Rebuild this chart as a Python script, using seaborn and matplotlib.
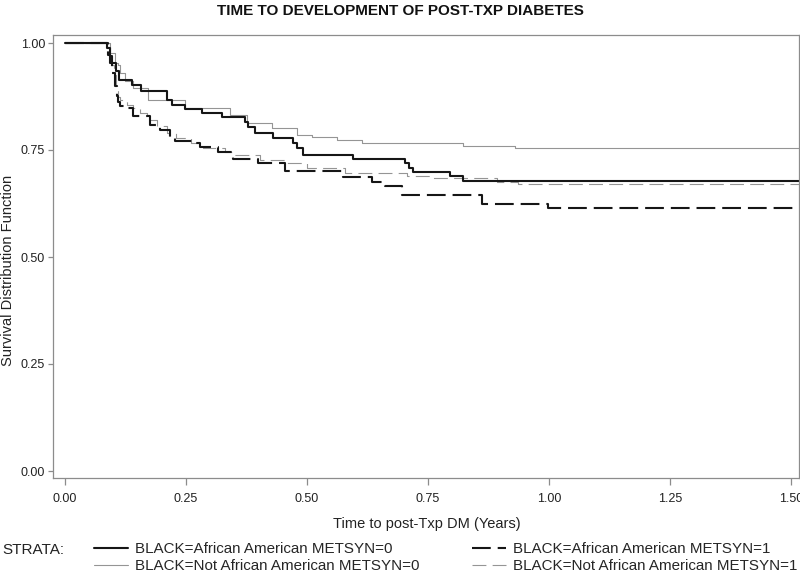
import numpy as np
import pandas as pd
import matplotlib
matplotlib.use("Agg")
import matplotlib.pyplot as plt
from matplotlib.lines import Line2D
import seaborn as sns

# ---- data ----
t_aa_m0 = [0, 0.087, 0.093, 0.097, 0.105, 0.112, 0.138, 0.157, 0.211, 0.221, 0.248, 0.283,
           0.324, 0.372, 0.378, 0.393, 0.430, 0.471, 0.479, 0.492, 0.595, 0.702, 0.711, 0.719,
           0.795, 0.822, 1.52]
s_aa_m0 = [1.0, 0.988, 0.970, 0.953, 0.935, 0.914, 0.902, 0.888, 0.867, 0.855, 0.846, 0.836,
           0.827, 0.815, 0.804, 0.790, 0.778, 0.766, 0.755, 0.738, 0.729, 0.720, 0.708, 0.699,
           0.689, 0.678, 0.678]

t_naa_m0 = [0, 0.087, 0.093, 0.103, 0.109, 0.114, 0.124, 0.140, 0.172, 0.248, 0.341, 0.376,
            0.428, 0.479, 0.510, 0.562, 0.614, 0.822, 0.930, 1.52]
s_naa_m0 = [1.0, 0.990, 0.977, 0.953, 0.949, 0.930, 0.911, 0.895, 0.867, 0.848, 0.832, 0.813,
            0.801, 0.785, 0.780, 0.773, 0.766, 0.759, 0.755, 0.755]

t_aa_m1 = [0, 0.089, 0.093, 0.097, 0.103, 0.107, 0.110, 0.114, 0.124, 0.140, 0.176, 0.196,
           0.217, 0.227, 0.269, 0.279, 0.316, 0.347, 0.399, 0.455, 0.574, 0.634, 0.661, 0.696,
           0.862, 0.998, 1.52]
s_aa_m1 = [1.0, 0.972, 0.953, 0.930, 0.900, 0.877, 0.862, 0.853, 0.848, 0.829, 0.808, 0.797,
           0.778, 0.771, 0.766, 0.757, 0.745, 0.729, 0.720, 0.701, 0.687, 0.675, 0.666, 0.645,
           0.624, 0.614, 0.614]

t_naa_m1 = [0, 0.093, 0.097, 0.101, 0.105, 0.110, 0.114, 0.128, 0.140, 0.155, 0.170, 0.190,
            0.210, 0.230, 0.260, 0.285, 0.330, 0.351, 0.403, 0.455, 0.500, 0.579, 0.707, 0.754,
            0.893, 0.936, 1.52]
s_naa_m1 = [1.0, 0.972, 0.949, 0.925, 0.895, 0.874, 0.867, 0.855, 0.848, 0.836, 0.820, 0.806,
            0.790, 0.778, 0.766, 0.755, 0.745, 0.738, 0.727, 0.720, 0.708, 0.696, 0.689, 0.685,
            0.675, 0.671, 0.671]

strata = ["BLACK=African American METSYN=0", "BLACK=Not African American METSYN=0",
          "BLACK=African American METSYN=1", "BLACK=Not African American METSYN=1"]
x_ticks = [0.0, 0.25, 0.5, 0.75, 1.0, 1.25, 1.5]
y_ticks = [0.0, 0.25, 0.5, 0.75, 1.0]

title = "TIME TO DEVELOPMENT OF POST-TXP DIABETES"
xlabel = "Time to post-Txp DM (Years)"
ylabel = "Survival Distribution Function"

# ---- style ----
sns.set_theme(style="white")
plt.rcParams["font.family"] = ["Liberation Sans", "DejaVu Sans"]
plt.rcParams["lines.scale_dashes"] = False

fig = plt.figure(figsize=(8, 5.8), dpi=100)
ax = fig.add_axes([53/800, 1-478/580, (799-53)/800, (478-35)/580])

styles = [
    dict(color="#161616", lw=1.5, ls="-"),
    dict(color="#959595", lw=0.8, ls="-"),
    dict(color="#161616", lw=1.5, ls=(0, (13.5, 5))),
    dict(color="#959595", lw=0.8, ls=(0, (10, 4.5))),
]
series = [(t_aa_m0, s_aa_m0), (t_naa_m0, s_naa_m0), (t_aa_m1, s_aa_m1), (t_naa_m1, s_naa_m1)]

order = [1, 3, 2, 0]  # draw gray first, black on top
for i in order:
    t, s = series[i]
    df = pd.DataFrame({"t": t, "s": s})
    st = styles[i]
    sns.lineplot(data=df, x="t", y="s", ax=ax, estimator=None, sort=False,
                 drawstyle="steps-post", color=st["color"], linewidth=st["lw"])
    ax.lines[-1].set_linestyle(st["ls"])

ax.set_xlim(-12/484, 734/484)
ax.set_ylim(-7/428, 1 + 8/428)
ax.set_xticks(x_ticks)
ax.set_yticks(y_ticks)
ax.set_xticklabels([f"{v:.2f}" for v in x_ticks])
ax.set_yticklabels([f"{v:.2f}" for v in y_ticks])
ax.set_xlabel("")
ax.set_ylabel("")
for sp in ax.spines.values():
    sp.set_color("#8c8c8c")
    sp.set_linewidth(0.9)
ax.tick_params(axis="both", which="major", direction="out", width=0.9,
               color="#8c8c8c", labelsize=9, labelcolor="#222222",
               bottom=True, left=True)
ax.tick_params(axis="x", length=5, pad=5.5)
ax.tick_params(axis="y", length=3.6, pad=2)

fig.text(400/800, 1-15/580, title, ha="center", va="baseline", fontsize=11,
         fontweight="bold", color="#111111")
fig.text(427/800, 1-524/580, xlabel, ha="center", va="center", fontsize=10.5, color="#222222")
fig.text(8/800, 1-270/580, ylabel, ha="center", va="center", rotation=90, fontsize=10.5,
         color="#222222")

# legend
fig.text(2/800, 1-550/580, "STRATA:", ha="left", va="center", fontsize=11, color="#222222")
handles = []
for i in [0, 1, 2, 3]:
    st = styles[i]
    handles.append(Line2D([], [], color=st["color"], lw=st["lw"], ls=st["ls"]))
fig.legend(handles, strata, ncol=2, loc="upper left", bbox_to_anchor=(94/800, 1-542/580),
           frameon=False, fontsize=10.9, handlelength=2.25, handletextpad=0.45,
           columnspacing=3.5, labelspacing=0.2, borderaxespad=0, borderpad=0)

fig.savefig("out.png", dpi=100)
